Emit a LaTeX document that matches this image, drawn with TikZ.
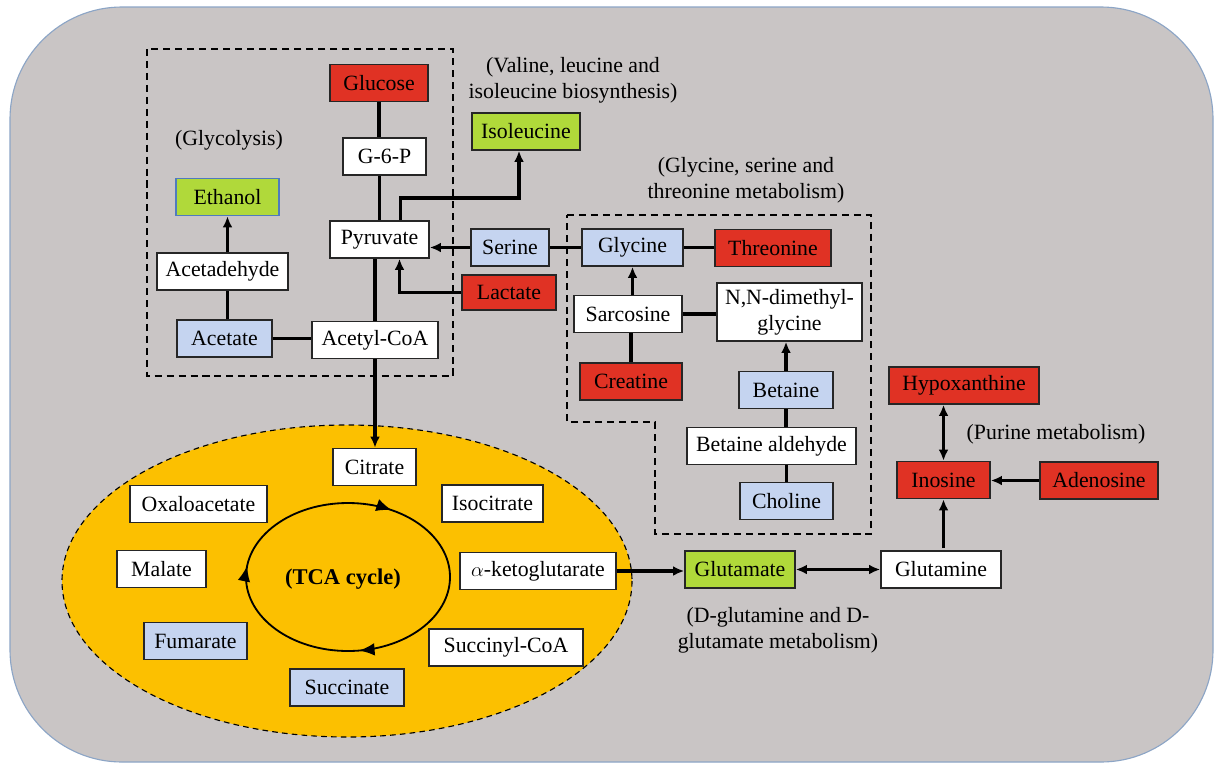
\documentclass[tikz,border=0pt]{standalone}
\usepackage{fontspec}
\setmainfont{Liberation Serif}
\usetikzlibrary{arrows.meta}
\usetikzlibrary{calc}
\usetikzlibrary{decorations.markings}
\definecolor{MAP_grau}{HTML}{C9C5C5}
\definecolor{MAP_rand}{HTML}{8CA5C6}
\definecolor{MAP_rot}{HTML}{E03224}
\definecolor{MAP_gruen}{HTML}{B0D93A}
\definecolor{MAP_blau}{HTML}{C5D4F0}
\definecolor{MAP_gelb}{HTML}{FCC000}
\definecolor{MAP_blaurand}{HTML}{4F7BBE}

\begin{document}
\begin{tikzpicture}[x=0.025cm, y=-0.025cm,
  font=\fontsize{15.5}{18.5}\selectfont,
  metabolite/.style={draw=black!85, line width=1pt, rectangle, minimum height=0.925cm, inner sep=2pt, fill=white},
  upbox/.style={metabolite, fill=MAP_rot},
  downbox/.style={metabolite, fill=MAP_blau},
  markerbox/.style={metabolite, fill=MAP_gruen},
  link/.style={line width=2.5pt},
  flow/.style={link, -{Latex[length=8pt,width=7pt]}},
  bothflow/.style={link, {Latex[length=8pt,width=7pt]}-{Latex[length=8pt,width=7pt]}},
  region/.style={dash pattern=on 5pt off 3.5pt, line width=0.8pt}]
\useasboundingbox (0,0) rectangle (1214,763);
%\draw[step=100, very thin, red] (0,0) grid (1214,763);

\draw[MAP_rand, fill=MAP_grau, line width=0.8pt, rounded corners=2.8cm] (10,7) rectangle (1213,762);

% glycolysis
\draw[region] (147,49) rectangle (453,376);
\node (glycolysislabel) at (229,140) {(Glycolysis)};
\node[upbox, minimum width=2.45cm] (glucose) at (379,83) {Glucose};
\node[metabolite, minimum width=2.075cm] (gsixp) at (384.5,156.5) {G-6-P};
\node[metabolite, minimum width=2.475cm] (pyruvate) at (379.5,239.5) {Pyruvate};
\node[markerbox, draw=MAP_blaurand, minimum width=2.575cm] (ethanol) at (227.5,197) {Ethanol};
\node[metabolite, minimum width=3.275cm] (acetaldehyde) at (222.5,271.5) {Acetadehyde};
\node[downbox, minimum width=2.375cm] (acetate) at (224.5,338.5) {Acetate};
\node[metabolite, minimum width=3.15cm] (acetylcoa) at (375,340) {Acetyl-CoA};

\draw[link] (glucose.south) -- (glucose.south |- gsixp.north);
\draw[link] (pyruvate.north) -- (pyruvate.north |- gsixp.south);
\draw[link] (acetylcoa.north) -- (acetylcoa.north |- pyruvate.south);
\draw[flow] (acetaldehyde.north -| ethanol) -- (ethanol.south);
\draw[link] (acetate.north -| ethanol) -- (acetaldehyde.south -| ethanol);
\draw[link] (acetate.east) -- (acetate.east -| acetylcoa.west);

% valine, leucine and isoleucine
\node[align=center] (valinelabel) at (573,80) {(Valine, leucine and\\isoleucine biosynthesis)};
\node[markerbox, minimum width=2.7cm] (isoleucine) at (526,131.5) {Isoleucine};
\coordinate (isobend) at (519,198);
\draw[flow] ($ (pyruvate.north) + (21,0) $) |- (isobend) -- (isobend |- isoleucine.south);

\node[downbox, minimum width=1.95cm] (serine) at (510,247.5) {Serine};
\node[upbox, minimum width=2.35cm, minimum height=0.875cm] (lactate) at (509,292.5) {Lactate};
\draw[flow] (serine.west) -- (serine.west -| pyruvate.east);
\draw[flow] (lactate.west) -| ($ (pyruvate.south) + (20,0) $);

% glycine, serine and threonine
\draw[region] (567,215) -- (871,215) -- (871,534) -- (655,534) -- (655,422) -- (567,422) -- cycle;
\node[align=center] (glycinelabel) at (746,180) {(Glycine, serine and\\threonine metabolism)};
\node[downbox, minimum width=2.525cm] (glycine) at (632.5,247.5) {Glycine};
\node[upbox, minimum width=2.9cm] (threonine) at (773,248) {Threonine};
\node[metabolite, minimum width=2.7cm] (sarcosine) at (628,314) {Sarcosine};
\node[metabolite, align=center, minimum width=3.625cm, minimum height=1.45cm] (dimethylglycine) at (789.5,312) {N,N-dimethyl-\\glycine};
\node[upbox, minimum width=2.55cm] (creatine) at (631,381.5) {Creatine};
\node[downbox, minimum width=2.35cm] (betaine) at (786,390) {Betaine};
\node[metabolite, minimum width=4.225cm] (betainealdehyde) at (771.5,446) {Betaine aldehyde};
\node[downbox, minimum width=2.325cm] (choline) at (786.5,501) {Choline};

\draw[link] (serine.east) -- (serine.east -| glycine.west);
\draw[link] (glycine.east) -- (glycine.east -| threonine.west);
\draw[flow] (sarcosine.north -| glycine) -- (glycine.south);
\draw[link] (creatine.north) -- (creatine.north |- sarcosine.south);
\draw[link] (sarcosine.east) -- (sarcosine.east -| dimethylglycine.west);
\draw[flow] (betaine.north) -- (betaine.north |- dimethylglycine.south);
\draw[link] (betaine.south) -- (betaine.south |- betainealdehyde.north);
\draw[link] (choline.north) -- (choline.north |- betainealdehyde.south);

% TCA cycle
\draw[dash pattern=on 4pt off 3pt, line width=0.8pt, fill=MAP_gelb] (347,581) ellipse [x radius=285, y radius=156];
\draw[line width=1.3pt, postaction={decorate}, decoration={markings,
  mark=at position 0.23 with {\arrow{Latex[length=11pt,width=9pt]}},
  mark=at position 0.52 with {\arrow{Latex[length=11pt,width=9pt]}},
  mark=at position 0.83 with {\arrow{Latex[length=11pt,width=9pt]}}}] (348,577) ellipse [x radius=102, y radius=74];
\node[font=\fontsize{16}{18}\selectfont\bfseries] (tcalabel) at (343,579) {(TCA cycle)};
\node[metabolite, minimum width=2.075cm] (citrate) at (374.5,467) {Citrate};
\node[metabolite, minimum width=3.425cm] (oxaloacetate) at (198.5,504) {Oxaloacetate};
\node[metabolite, minimum width=2.525cm] (isocitrate) at (492.5,503.5) {Isocitrate};
\node[metabolite, minimum width=2.225cm] (malate) at (161.5,569) {Malate};
\node[metabolite, minimum width=3.9cm] (akg) at (538,571) {$\alpha$-ketoglutarate};
\node[downbox, minimum width=2.575cm] (fumarate) at (195.5,641) {Fumarate};
\node[metabolite, minimum width=3.85cm] (succinylcoa) at (506,647.5) {Succinyl-CoA};
\node[downbox, minimum width=2.85cm] (succinate) at (347,687.5) {Succinate};
\draw[flow] (acetylcoa.south) -- (acetylcoa.south |- citrate.north);

% glutamine and glutamate, purine
\node[markerbox, minimum width=2.75cm] (glutamate) at (740,569.5) {Glutamate};
\node[metabolite, minimum width=3cm] (glutamine) at (941,569.5) {Glutamine};
\node[align=center] (glutamatelabel) at (778,630) {(D-glutamine and D-\\glutamate metabolism)};
\node[upbox, minimum width=3.75cm] (hypoxanthine) at (964,385.5) {Hypoxanthine};
\node[upbox, minimum width=2.325cm] (inosine) at (943.5,480) {Inosine};
\node[upbox, minimum width=2.95cm] (adenosine) at (1099,480.5) {Adenosine};
\node (purinelabel) at (1056,434) {(Purine metabolism)};

\draw[flow] (akg.east) -- (akg.east -| glutamate.west);
\draw[bothflow] (glutamate.east) -- (glutamate.east -| glutamine.west);
\draw[flow, shorten <=1.5pt] (glutamine.north -| inosine) -- (inosine.south);
\draw[bothflow] (inosine.north) -- (inosine.north |- hypoxanthine.south);
\draw[flow] (adenosine.west) -- (adenosine.west -| inosine.east);
\end{tikzpicture}
\end{document}
